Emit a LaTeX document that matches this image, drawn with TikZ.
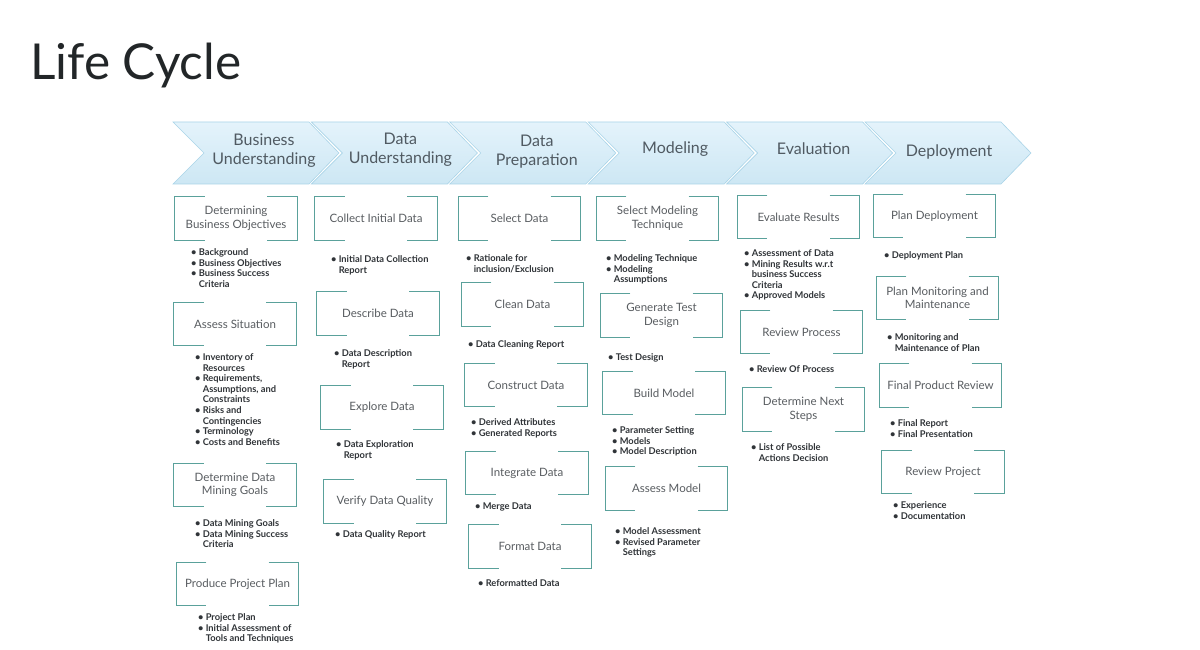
\documentclass[tikz,border=0pt]{standalone}
\usepackage{fontspec}
\setmainfont{Lato}
\usetikzlibrary{calc}
\definecolor{boxline}{HTML}{5AA19B}
\definecolor{chevtop}{HTML}{E4F3FB}
\definecolor{chevbot}{HTML}{CDE7F4}
\definecolor{chevedge}{HTML}{A9D4E8}
\definecolor{chevtxt}{HTML}{505A62}
\definecolor{boxtxt}{HTML}{595D61}
\definecolor{bultxt}{HTML}{303438}
\definecolor{titletxt}{HTML}{222628}
\tikzset{
  chevshape/.style={top color=chevtop, bottom color=chevbot, draw=chevedge, line width=0.6pt},
  chevtext/.style={align=center, inner sep=0pt, text=chevtxt, font=\fontsize{16}{19}\selectfont},
  boxtext/.style={minimum width=122pt, minimum height=43pt, inner sep=0pt, align=center, text=boxtxt, font=\fontsize{11.5}{13.5}\selectfont},
  boxedge/.style={draw=boxline, line width=1.3pt},
  bultext/.style={anchor=north west, inner sep=0pt, text=bultxt, font=\fontsize{9.3}{10.6}\selectfont\bfseries},
}
\newcommand{\bu}{\textbullet &}
\newcommand{\chev}[5]{% index, name, text x-offset, text y, text
  \pgfmathsetmacro{\xo}{173+138.4*#1}
  \path[chevshape] (\xo,122) -- (\xo+136,122) -- (\xo+166,153) -- (\xo+136,184) -- (\xo,184) -- (\xo+31,153) -- cycle;
  \node[chevtext] (#2) at (\xo+#3,#4) {#5};
}
\newcommand{\bx}[4]{% name, cx, cy, text
  \node[boxtext] (#1) at (#2,#3) {#4};
  \draw[boxedge] ($(#1.north west)+(30,0)$) -- (#1.north west) -- (#1.south west) -- ($(#1.south west)+(30,0)$);
  \draw[boxedge] ($(#1.north east)+(-30,0)$) -- (#1.north east) -- (#1.south east) -- ($(#1.south east)+(-30,0)$);
}
\newcommand{\bl}[4]{% name, x, y, rows
  \node[bultext] (#1) at (#2-1,#3-4.2) {\begin{tabular}{@{}l@{\hspace{2.2pt}}l@{}}#4\end{tabular}};
}
\begin{document}
\begin{tikzpicture}[x=1pt,y=-1pt]
\useasboundingbox (0,0) rectangle (1200,650);
\fill[white] (0,0) rectangle (1200,650);

\node[anchor=base west, inner sep=0pt, text=titletxt, font=\fontsize{49.5}{56}\selectfont] (title) at (30,79.5) {Life Cycle};

% phase chevrons
\chev{0}{p1}{91}{150.5}{Business\\Understanding}
\chev{1}{p2}{89}{149.5}{Data\\Understanding}
\chev{2}{p3}{87}{152}{Data\\Preparation}
\chev{3}{p4}{87}{149}{Modeling}
\chev{4}{p5}{87}{149}{Evaluation}
\chev{5}{p6}{84}{152}{Deployment}

% Business Understanding
\bx{bo}{236}{218.5}{Determining\\Business Objectives}
\bl{bol}{192}{252}{\bu Background\\ \bu Business Objectives\\ \bu Business Success\\ & Criteria}
\bx{as}{235}{324}{Assess Situation}
\bl{asl}{196}{357}{\bu Inventory of\\ & Resources\\ \bu Requirements,\\ & Assumptions, and\\ & Constraints\\ \bu Risks and\\ & Contingencies\\ \bu Terminology\\ \bu Costs and Benefits}
\bx{dg}{235}{485}{Determine Data\\Mining Goals}
\bl{dgl}{196}{523}{\bu Data Mining Goals\\ \bu Data Mining Success\\ & Criteria}
\bx{pp}{237.5}{584}{Produce Project Plan}
\bl{ppl}{199}{617}{\bu Project Plan\\ \bu Initial Assessment of\\ & Tools and Techniques}

% Data Understanding
\bx{ci}{376}{218.5}{Collect Initial Data}
\bl{cil}{332}{259}{\bu Initial Data Collection\\ & Report}
\bx{dd}{378}{313.5}{Describe Data}
\bl{ddl}{335}{353}{\bu Data Description\\ & Report}
\bx{ed}{382}{407.5}{Explore Data}
\bl{edl}{337}{444}{\bu Data Exploration\\ & Report}
\bx{vq}{385}{501.5}{Verify Data Quality}
\bl{vql}{336}{534}{\bu Data Quality Report}

% Data Preparation
\bx{sd}{519.5}{218.5}{Select Data}
\bl{sdl}{467}{258}{\bu Rationale for\\ & inclusion/Exclusion}
\bx{cd}{522.5}{304.5}{Clean Data}
\bl{cdl}{469}{344}{\bu Data Cleaning Report}
\bx{cn}{526}{385}{Construct Data}
\bl{cnl}{472}{422}{\bu Derived Attributes\\ \bu Generated Reports}
\bx{id}{527}{473}{Integrate Data}
\bl{idl}{476}{506}{\bu Merge Data}
\bx{fd}{530}{546.5}{Format Data}
\bl{fdl}{479}{583}{\bu Reformatted Data}

% Modeling
\bx{sm}{657.5}{218.5}{Select Modeling\\Technique}
\bl{sml}{607}{258}{\bu Modeling Technique\\ \bu Modeling\\ & Assumptions}
\bx{gt}{661.5}{315.5}{Generate Test\\Design}
\bl{gtl}{609}{357}{\bu Test Design}
\bx{bm}{664}{393}{Build Model}
\bl{bml}{613}{430}{\bu Parameter Setting\\ \bu Models\\ \bu Model Description}
\bx{am}{666.5}{488.5}{Assess Model}
\bl{aml}{616}{531}{\bu Model Assessment\\ \bu Revised Parameter\\ & Settings}

% Evaluation
\bx{er}{798.5}{217}{Evaluate Results}
\bl{erl}{745}{253}{\bu Assessment of Data\\ \bu Mining Results w.r.t\\ & business Success\\ & Criteria\\ \bu Approved Models}
\bx{rp}{801.5}{332}{Review Process}
\bl{rpl}{750}{369}{\bu Review Of Process}
\bx{dn}{803.5}{409.5}{Determine Next\\Steps}
\bl{dnl}{752}{447}{\bu List of Possible\\ & Actions Decision}

% Deployment
\bx{pd}{934.5}{216}{Plan Deployment}
\bl{pdl}{885}{255}{\bu Deployment Plan}
\bx{pm}{937.5}{298}{Plan Monitoring and\\Maintenance}
\bl{pml}{888}{337}{\bu Monitoring and\\ & Maintenance of Plan}
\bx{fp}{940.5}{385.5}{Final Product Review}
\bl{fpl}{891}{423}{\bu Final Report\\ \bu Final Presentation}
\bx{rj}{943}{472}{Review Project}
\bl{rjl}{894}{505}{\bu Experience\\ \bu Documentation}
\end{tikzpicture}
\end{document}
